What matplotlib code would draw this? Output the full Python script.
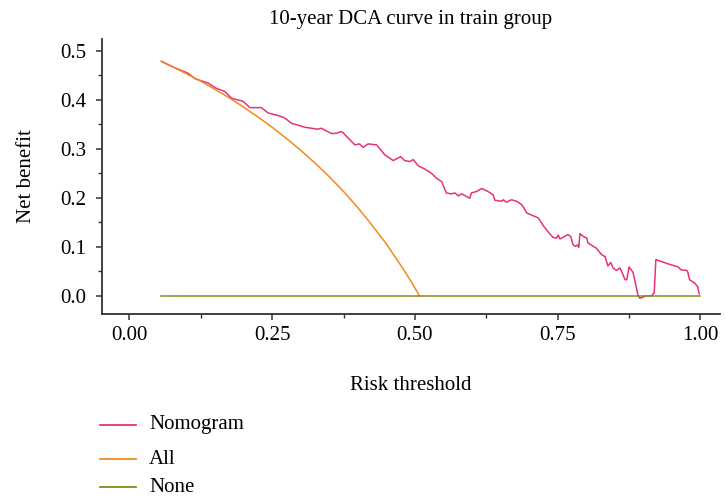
import matplotlib
matplotlib.use("Agg")
import matplotlib.pyplot as plt
from matplotlib.lines import Line2D
from matplotlib.ticker import MultipleLocator

plt.rcParams.update({"font.family": "Liberation Serif"})

PINK = "#e8307f"
ORANGE = "#f28a1c"
OLIVE = "#8a8a1a"

nomo_x = [0.056, 0.080, 0.103, 0.115, 0.138, 0.147, 0.153, 0.167, 0.179, 0.199,
          0.211, 0.231, 0.243, 0.260, 0.272, 0.284, 0.296, 0.307, 0.330, 0.336,
          0.354, 0.363, 0.371, 0.374, 0.383, 0.395, 0.403, 0.409, 0.418, 0.433,
          0.447, 0.462, 0.475, 0.482, 0.491, 0.497, 0.506, 0.517, 0.529, 0.538,
          0.547, 0.549, 0.555, 0.564, 0.570, 0.576, 0.582, 0.590, 0.596, 0.599,
          0.608, 0.617, 0.628, 0.637, 0.640, 0.652, 0.655, 0.660, 0.669, 0.678,
          0.687, 0.691, 0.696, 0.704, 0.716, 0.725, 0.733, 0.742, 0.748, 0.751,
          0.754, 0.768, 0.773, 0.777, 0.781, 0.785, 0.787, 0.789, 0.795, 0.801,
          0.803, 0.818, 0.827, 0.833, 0.838, 0.843, 0.847, 0.853, 0.859, 0.862,
          0.868, 0.871, 0.875, 0.882, 0.891, 0.894, 0.905, 0.914, 0.919, 0.922,
          0.944, 0.961, 0.966, 0.976, 0.978, 0.981, 0.990, 0.995, 0.998]
nomo_y = [0.478, 0.465, 0.454, 0.443, 0.434, 0.427, 0.423, 0.417, 0.403, 0.397,
          0.384, 0.384, 0.373, 0.368, 0.363, 0.352, 0.348, 0.344, 0.340, 0.342,
          0.331, 0.332, 0.335, 0.333, 0.322, 0.308, 0.310, 0.303, 0.310, 0.308,
          0.288, 0.276, 0.284, 0.276, 0.274, 0.278, 0.265, 0.259, 0.250, 0.240,
          0.233, 0.227, 0.210, 0.208, 0.210, 0.204, 0.208, 0.203, 0.199, 0.210,
          0.213, 0.219, 0.213, 0.206, 0.195, 0.193, 0.196, 0.191, 0.196, 0.193,
          0.186, 0.179, 0.169, 0.165, 0.159, 0.143, 0.131, 0.119, 0.118, 0.124,
          0.116, 0.125, 0.121, 0.104, 0.101, 0.104, 0.099, 0.127, 0.121, 0.118,
          0.108, 0.097, 0.084, 0.080, 0.061, 0.068, 0.057, 0.052, 0.057, 0.050,
          0.033, 0.033, 0.059, 0.048, 0.000, -0.005, 0.000, 0.000, 0.006, 0.074,
          0.065, 0.059, 0.053, 0.052, 0.048, 0.033, 0.026, 0.019, 0.004]

all_x = [0.056, 0.075, 0.100, 0.125, 0.150, 0.175, 0.200, 0.225, 0.250, 0.275,
         0.300, 0.325, 0.350, 0.375, 0.400, 0.425, 0.450, 0.465, 0.480, 0.495, 0.508]
all_y = [0.479, 0.468, 0.453, 0.438, 0.421, 0.404, 0.385, 0.365, 0.344, 0.321,
         0.297, 0.271, 0.243, 0.213, 0.180, 0.144, 0.106, 0.080, 0.054, 0.026, 0.0]

none_x = [0.056, 1.0]
none_y = [0.0, 0.0]

fig = plt.figure(figsize=(7.26, 5.0), dpi=100)
ax = fig.add_axes([0.1405, 0.372, 0.851, 0.55])

ax.plot(nomo_x, nomo_y, color=PINK, lw=1.1)
ax.plot(all_x, all_y, color=ORANGE, lw=1.1)
ax.plot(none_x, none_y, color=OLIVE, lw=1.1)

ax.set_xlim(-0.048, 1.034)
ax.set_ylim(-0.037, 0.524)
ax.xaxis.set_major_locator(MultipleLocator(0.25))
ax.xaxis.set_minor_locator(MultipleLocator(0.125))
ax.yaxis.set_major_locator(MultipleLocator(0.1))
ax.yaxis.set_minor_locator(MultipleLocator(0.05))
ax.xaxis.set_major_formatter(plt.FuncFormatter(lambda v, p: f"{v:.2f}"))
ax.yaxis.set_major_formatter(plt.FuncFormatter(lambda v, p: f"{v:.1f}"))

for s in ("top", "right"):
    ax.spines[s].set_visible(False)
for s in ("left", "bottom"):
    ax.spines[s].set_color("#333333")
    ax.spines[s].set_linewidth(1.3)
ax.tick_params(which="major", length=4, width=1.1, color="#333333", labelsize=15)
ax.tick_params(which="minor", length=3, width=1.0, color="#333333")
ax.tick_params(axis="x", which="major", pad=5)
ax.tick_params(axis="y", which="major", pad=7)

ax.set_title("10-year DCA curve in train group", fontsize=15, pad=11)
ax.set_ylabel("Net benefit", fontsize=15, labelpad=18)
ax.set_xlabel("Risk threshold", fontsize=15, labelpad=22)

# legend below the plot
rows = [("Nomogram", PINK, 425), ("All", ORANGE, 459), ("None", OLIVE, 487)]
for lab, col, py in rows:
    yf = 1 - py / 500
    fig.add_artist(Line2D([100 / 726, 136 / 726], [yf, yf], color=col, lw=1.3))
    fig.text(149 / 726, yf, lab, fontsize=15, va="center", ha="left")

fig.savefig("out.png", dpi=100, facecolor="white")
